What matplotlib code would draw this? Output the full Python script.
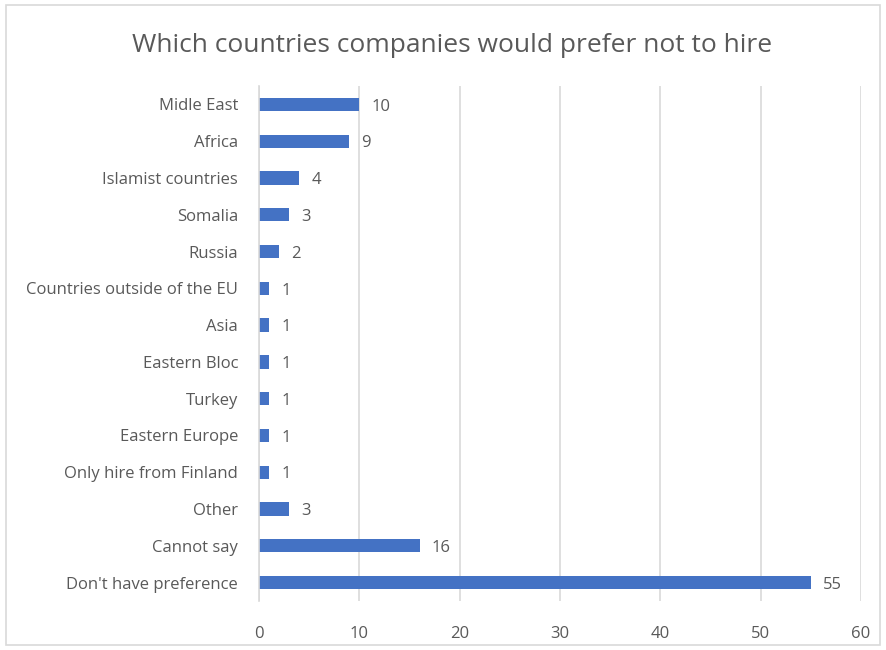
import matplotlib
matplotlib.use("Agg")
import matplotlib.pyplot as plt
from matplotlib.patches import Rectangle

categories = ["Midle East", "Africa", "Islamist countries", "Somalia", "Russia",
              "Countries outside of the EU", "Asia", "Eastern Bloc", "Turkey",
              "Eastern Europe", "Only hire from Finland", "Other", "Cannot say",
              "Don't have preference"]
values = [10, 9, 4, 3, 2, 1, 1, 1, 1, 1, 1, 3, 16, 55]
xticks = [0, 10, 20, 30, 40, 50, 60]
title = "Which countries companies would prefer not to hire"

plt.rcParams['font.family'] = ['Open Sans', 'DejaVu Sans']
grey = "#595959"

fig = plt.figure(figsize=(8.87, 6.5), dpi=100)
fig.patches.append(Rectangle((6/887, 5/650), 874/887, 640/650, transform=fig.transFigure,
                             fill=False, edgecolor="#d9d9d9", linewidth=1.2))
ax = fig.add_axes([259/887, 1 - 601/650, (861 - 259)/887, (601 - 86)/650])

pos = list(range(len(categories)))
ax.barh(pos, values, height=0.36, color="#4472c4", zorder=3)
for p, v in zip(pos, values):
    ax.text(v + 1.2, p + 0.06, str(v), va="center", ha="left", fontsize=12, color=grey)

ax.set_ylim(len(categories) - 0.5, -0.5)
ax.set_xlim(0, 60)
ax.set_yticks(pos)
ax.set_yticklabels(categories, fontsize=12, color=grey)
ax.set_xticks(xticks)
ax.set_xticklabels([str(x) for x in xticks], fontsize=12, color=grey)
ax.tick_params(axis='both', length=0)
ax.tick_params(axis='y', pad=15)
ax.tick_params(axis='x', pad=18)
ax.grid(axis='x', color="#d9d9d9", linewidth=1.2, zorder=0)
for s in ["top", "right", "bottom"]:
    ax.spines[s].set_visible(False)
ax.spines["left"].set_color("#d9d9d9")
ax.spines["left"].set_linewidth(1.2)
ax.spines["left"].set_zorder(4)

fig.text(452/887, 1 - 45/650, title, ha="center", va="center", fontsize=19, color=grey)

fig.savefig("out.png", dpi=100)
